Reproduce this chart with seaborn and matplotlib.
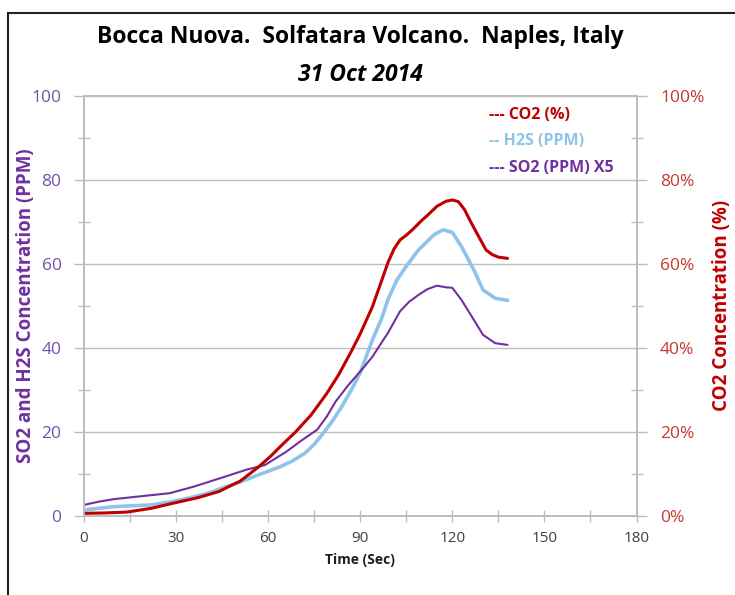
import matplotlib
matplotlib.use("Agg")
import matplotlib.pyplot as plt
import matplotlib.ticker as mticker
from matplotlib.patches import Rectangle
import seaborn as sns

# values (time in seconds)
co2_time = [0, 7, 14, 22, 29, 37, 44, 51, 57, 61, 64, 69, 74, 79, 83, 87, 90, 94, 97, 99,
            101, 103, 105, 107, 110, 112, 115, 118, 120, 122, 124, 126, 128, 131, 133, 135, 138]
co2_pct = [0.6, 0.7, 0.9, 1.8, 3.0, 4.3, 5.8, 8.3, 11.7, 14.3, 16.5, 20.0, 24.0, 29.0, 33.6,
           39.0, 43.3, 49.8, 56.0, 60.2, 63.5, 65.7, 66.8, 68.1, 70.3, 71.6, 73.7, 74.9, 75.2,
           74.8, 72.9, 70.0, 67.3, 63.3, 62.2, 61.6, 61.3]

h2s_time = [0, 5, 10, 16, 22, 28, 34, 40, 45, 51, 57, 64, 68, 72, 75, 78, 81, 84, 87, 90,
            94, 97, 99, 102, 105, 109, 114, 117, 120, 123, 127, 130, 134, 138]
h2s_ppm = [1.4, 1.8, 2.2, 2.4, 2.6, 3.3, 4.2, 5.3, 6.6, 8.1, 9.8, 11.7, 13.1, 14.9, 17.0, 19.7,
           22.6, 26.0, 29.8, 34.0, 41.9, 47.0, 51.4, 56.2, 59.4, 63.3, 66.9, 68.1, 67.5, 64.1,
           58.6, 53.8, 51.8, 51.3]

so2_time = [0, 5, 10, 19, 28, 36, 45, 53, 59, 66, 71, 76, 79, 82, 86, 91, 94, 99, 103,
            106, 109, 112, 115, 118, 120, 123, 127, 130, 134, 138]
so2_ppm = [2.6, 3.4, 4.0, 4.7, 5.4, 7.0, 9.1, 11.0, 12.1, 15.3, 18.0, 20.5, 23.5, 27.2, 31.0,
           35.2, 37.9, 43.5, 48.7, 51.0, 52.6, 54.0, 54.8, 54.4, 54.3, 51.4, 46.7, 43.1,
           41.1, 40.7]

x_ticks = [0, 30, 60, 90, 120, 150, 180]
y_ticks = [0, 20, 40, 60, 80, 100]

title_main = "Bocca Nuova.  Solfatara Volcano.  Naples, Italy"
title_date = "31 Oct 2014"

red = "#C00000"
blue = "#8EC3EA"
purple = "#7030A0"
tick_purple = "#7352A8"
tick_red = "#C4392E"
grid_gray = "#BDBDBD"
font = ["Open Sans", "DejaVu Sans"]

sns.set_style("white")
plt.rcParams["font.family"] = font

fig = plt.figure(figsize=(7.35, 5.95), dpi=100)
ax = fig.add_axes([0.114, 0.133, 0.752, 0.706])
ax2 = ax.twinx()

sns.lineplot(x=h2s_time, y=h2s_ppm, ax=ax, color=blue, linewidth=2.6)
sns.lineplot(x=so2_time, y=so2_ppm, ax=ax, color=purple, linewidth=1.5)
sns.lineplot(x=co2_time, y=co2_pct, ax=ax2, color=red, linewidth=2.2)
ax2.set_zorder(ax.get_zorder() + 1)
ax2.patch.set_visible(False)

for a in (ax, ax2):
    a.set_xlim(0, 180)
    a.set_ylim(0, 100)
    for s in a.spines.values():
        s.set_color(grid_gray)
        s.set_linewidth(1.2)

ax.set_xticks(x_ticks)
ax.xaxis.set_minor_locator(mticker.MultipleLocator(15))
ax.set_yticks(y_ticks)
ax.yaxis.set_minor_locator(mticker.MultipleLocator(10))
ax.grid(axis="y", which="major", color=grid_gray, linewidth=1.0)
ax.tick_params(axis="x", which="both", direction="inout", length=8, width=1,
               color=grid_gray, labelsize=11, labelcolor="#404040", pad=7, bottom=True)
ax.tick_params(axis="y", which="major", direction="out", length=7, width=1,
               color=grid_gray, labelsize=12.5, labelcolor=tick_purple, left=True, pad=9)
ax.tick_params(axis="y", which="minor", direction="inout", length=9, width=1,
               color=grid_gray, left=True)

ax2.set_yticks(y_ticks)
ax2.yaxis.set_minor_locator(mticker.MultipleLocator(10))
ax2.yaxis.set_major_formatter(mticker.FuncFormatter(lambda v, p: f"{int(v)}%"))
ax2.tick_params(axis="y", which="major", direction="out", length=7, width=1,
                color=grid_gray, labelsize=12.5, labelcolor=tick_red, right=True, pad=10)
ax2.tick_params(axis="y", which="minor", direction="inout", length=9, width=1,
                color=grid_gray, right=True)

ax.set_xlabel("Time (Sec)", fontsize=10, fontweight="bold", color="#202020", labelpad=5)
ax.set_ylabel("SO2 and H2S Concentration (PPM)", fontsize=13.5, fontweight="bold",
              color=purple)
ax.yaxis.set_label_coords(-0.086, 0.5)
ax2.set_ylabel("CO2 Concentration (%)", fontsize=13.5, fontweight="bold", color=red)
ax2.yaxis.set_label_coords(1.137, 0.5)

fig.text(0.49, 0.937, title_main, ha="center", va="center", fontsize=16.5,
         fontweight="bold", color="black")
fig.text(0.49, 0.874, title_date, ha="center", va="center", fontsize=16.5,
         fontweight="bold", style="italic", color="black")

legend_items = [("--- CO2 (%)", red), ("-- H2S (PPM)", blue), ("--- SO2 (PPM) X5", purple)]
for i, (label, col) in enumerate(legend_items):
    ax.text(0.733, 0.955 - i * 0.063, label, transform=ax.transAxes, ha="left",
            va="center", fontsize=11.5, fontweight="bold", color=col)

fig.patches.append(Rectangle((0.011, -0.02), 1.1, 0.998, transform=fig.transFigure,
                             fill=False, edgecolor="#202020", linewidth=1.5))

fig.savefig("out.png", dpi=100)
